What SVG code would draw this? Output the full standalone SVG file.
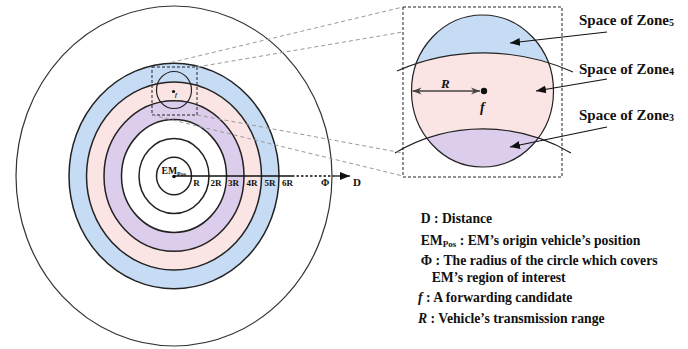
<svg xmlns="http://www.w3.org/2000/svg" width="688" height="349" viewBox="0 0 688 349">
<style>
.ring{stroke:#222;stroke-width:1.5}
.proj{fill:none;stroke:#9a9a9a;stroke-width:1;stroke-dasharray:4,3}
.box{fill:none;stroke:#222;stroke-width:1;stroke-dasharray:3,2}
.t{font-family:"Liberation Serif","Times New Roman",serif;font-weight:bold;fill:#111}
.tick{font-size:9px}
.leg{font-size:13.7px}
.zone{font-size:15px}
</style>
<defs>
<marker id="ah" viewBox="0 0 10 10" refX="10" refY="5" markerWidth="10" markerHeight="10" markerUnits="userSpaceOnUse" orient="auto">
<path d="M0,1 L10,5 L0,9 Z" fill="#111"/>
</marker>
<marker id="ahg" viewBox="0 0 10 10" refX="10" refY="5" markerWidth="9" markerHeight="9" markerUnits="userSpaceOnUse" orient="auto-start-reverse">
<path d="M0,1 L10,5 L0,9 L3,5 Z" fill="#444"/>
</marker>
<clipPath id="zc"><ellipse cx="482.5" cy="91" rx="71" ry="76"/></clipPath>
</defs>

<g id="rings">
<ellipse cx="174" cy="176" rx="158" ry="170" fill="#fff" stroke="#333" stroke-width="1.2"/>
<ellipse class="ring" cx="174" cy="176" rx="105" ry="112.8" fill="#c6dcf4"/>
<ellipse class="ring" cx="174" cy="176" rx="87.5" ry="94" fill="#fbe5e4"/>
<ellipse class="ring" cx="174" cy="176" rx="70" ry="75.2" fill="#dccdec"/>
<ellipse class="ring" cx="174" cy="176" rx="52.5" ry="56.4" fill="#fff"/>
<ellipse class="ring" cx="174" cy="176" rx="35" ry="37.6" fill="#fff"/>
<ellipse class="ring" cx="174" cy="176" rx="17.5" ry="18.8" fill="#fff"/>
</g>

<g id="candidate-small">
<ellipse cx="174" cy="90" rx="17.5" ry="18.5" fill="none" stroke="#222" stroke-width="1.2"/>
<circle cx="173.5" cy="91.5" r="1.6" fill="#111"/>
<text class="t" x="175" y="97" font-size="6" font-style="italic">f</text>
<rect class="box" x="152" y="67" width="45" height="48"/>
</g>

<g id="em-pos">
<circle cx="174" cy="176.5" r="1.8" fill="#111"/>
<text class="t" x="161.5" y="174.3" font-size="9.7">EM<tspan font-size="6" dy="2">Pos</tspan></text>
</g>

<g id="ticks">
<text class="t tick" x="193.3" y="185.7">R</text>
<text class="t tick" x="210.5" y="185.7">2R</text>
<text class="t tick" x="228" y="185.7">3R</text>
<text class="t tick" x="246.5" y="185.7">4R</text>
<text class="t tick" x="264.5" y="185.7">5R</text>
<text class="t tick" x="282" y="185.7">6R</text>
<text class="t" x="321" y="185.5" font-size="10">Φ</text>
<text class="t" x="353" y="185.5" font-size="11">D</text>
</g>

<g id="zoom-view">
<rect class="box" x="403" y="7" width="159" height="170"/>
<ellipse cx="482.5" cy="91" rx="71" ry="76" fill="#fbe5e4"/>
<g clip-path="url(#zc)">
<path d="M397,71 A218,218 0 0 1 573,72 L573,0 L397,0 Z" fill="#c6dcf4"/>
<path d="M395,153 A173,173 0 0 1 571,153 L571,180 L395,180 Z" fill="#dccdec"/>
</g>
<ellipse cx="482.5" cy="91" rx="71" ry="76" fill="none" stroke="#222" stroke-width="1.2"/>
<path d="M397,71 A218,218 0 0 1 573,72" fill="none" stroke="#222" stroke-width="1.2"/>
<path d="M395,153 A173,173 0 0 1 571,153" fill="none" stroke="#222" stroke-width="1.2"/>
<line x1="412.5" y1="91" x2="480" y2="91" stroke="#444" stroke-width="1.4" marker-start="url(#ahg)" marker-end="url(#ahg)"/>
<circle cx="484" cy="91" r="3.2" fill="#111"/>
<text class="t" x="441" y="88" font-size="13" font-style="italic">R</text>
<text class="t" x="480" y="112" font-size="14" font-style="italic">f</text>
</g>

<g id="zone-labels">
<text class="t zone" x="579" y="25">Space of Zone<tspan font-size="10" dy="1">5</tspan></text>
<text class="t zone" x="579" y="74">Space of Zone<tspan font-size="10" dy="1">4</tspan></text>
<text class="t zone" x="579" y="120">Space of Zone<tspan font-size="10" dy="1">3</tspan></text>
</g>

<g id="legend">
<text class="t leg" x="420.7" y="222.5">D : Distance</text>
<text class="t leg" x="420.7" y="245">EM<tspan font-size="9" dy="1.5">Pos</tspan><tspan dy="-1.5"> : EM’s origin vehicle’s position</tspan></text>
<text class="t leg" x="420.7" y="265">Φ : The radius of the circle which covers</text>
<text class="t leg" x="431.7" y="281.7">EM’s region of interest</text>
<text class="t leg" x="418" y="301.7"><tspan font-style="italic">f</tspan> : A forwarding candidate</text>
<text class="t leg" x="418" y="322.7"><tspan font-style="italic">R</tspan> : Vehicle’s transmission range</text>
</g>

<g id="connectors">
<line class="proj" x1="171" y1="62.5" x2="403" y2="7"/>
<line class="proj" x1="197" y1="67" x2="403" y2="32"/>
<line class="proj" x1="197" y1="115" x2="403" y2="153"/>
<line class="proj" x1="152" y1="115" x2="403" y2="176"/>
<line x1="174" y1="176" x2="292" y2="176" stroke="#111" stroke-width="1.3"/>
<line x1="292" y1="176" x2="334" y2="176" stroke="#111" stroke-width="1.3" stroke-dasharray="2.5,2"/>
<line x1="334" y1="176" x2="350" y2="176" stroke="#111" stroke-width="1.3" marker-end="url(#ah)"/>
<line x1="607" y1="32" x2="510" y2="43" stroke="#111" stroke-width="1.2" marker-end="url(#ah)"/>
<line x1="607" y1="79" x2="536" y2="91" stroke="#111" stroke-width="1.2" marker-end="url(#ah)"/>
<line x1="607" y1="127" x2="510" y2="147" stroke="#111" stroke-width="1.2" marker-end="url(#ah)"/>
</g>
</svg>
